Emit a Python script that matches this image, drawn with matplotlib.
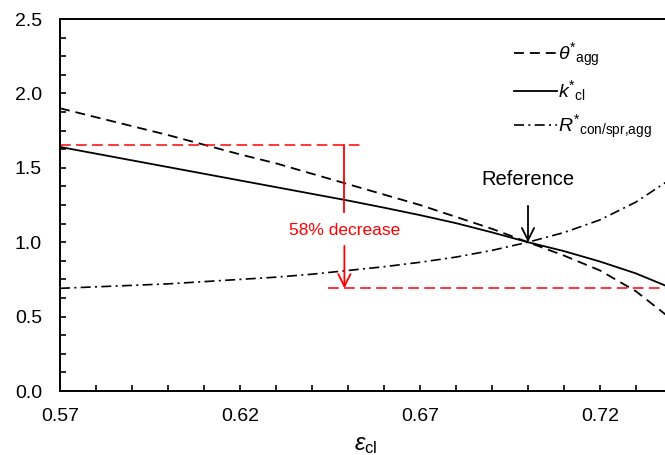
"""
Normalised aggregate properties against cluster porosity,
with the 58% decrease annotation and the reference point.
"""
import numpy as np
import matplotlib
matplotlib.use('Agg')
import matplotlib.pyplot as plt
from matplotlib.ticker import FixedLocator, MultipleLocator, FormatStrFormatter

plt.rcParams['font.family'] = ['Liberation Sans', 'DejaVu Sans']
plt.rcParams['mathtext.fontset'] = 'custom'
plt.rcParams['mathtext.rm'] = 'Liberation Sans'
plt.rcParams['mathtext.it'] = 'Liberation Sans:italic'

# values
eps_cl = [0.57, 0.58, 0.59, 0.60, 0.61, 0.62, 0.63, 0.64, 0.65,
          0.66, 0.67, 0.68, 0.69, 0.70, 0.71, 0.72, 0.73, 0.74]
theta_agg = [1.90, 1.84, 1.78, 1.72, 1.655, 1.59, 1.53, 1.46, 1.39,
             1.32, 1.25, 1.17, 1.09, 1.00, 0.91, 0.81, 0.67, 0.48]
k_cl = [1.64, 1.595, 1.55, 1.505, 1.46, 1.415, 1.37, 1.325, 1.28,
        1.232, 1.182, 1.128, 1.066, 1.00, 0.94, 0.87, 0.79, 0.69]
r_con = [0.69, 0.70, 0.71, 0.72, 0.735, 0.75, 0.765, 0.785, 0.81,
         0.835, 0.865, 0.90, 0.945, 1.00, 1.065, 1.15, 1.27, 1.43]

labels = [r'$\theta^{*}{}_{\rm agg}$', r'$k^{*}{}_{\rm cl}$',
          r'$R^{*}{}_{\rm con/spr{,}agg}$']

x_ticks = [0.57, 0.62, 0.67, 0.72]

ref_x, ref_y = 0.70, 1.00
top_level, low_level = 1.65, 0.69
decrease_x = 0.649
decrease_text = '58% decrease'

RED = '#ff0000'

fig = plt.figure(figsize=(6.65, 4.55), dpi=100)
ax = fig.add_axes([60 / 665, 64 / 455, 612 / 665, 372 / 455])

ax.plot(eps_cl, theta_agg, color='black', lw=1.3,
        linestyle=(0, (5.5, 3.3)), label=labels[0])
ax.plot(eps_cl, k_cl, color='black', lw=1.3, label=labels[1])
ax.plot(eps_cl, r_con, color='black', lw=1.2,
        linestyle=(0, (6, 2.6, 1.2, 2.6)), label=labels[2])

# red level lines and the decrease arrow
ax.plot([0.57, 0.6533], [top_level, top_level], color=RED, lw=1.1,
        linestyle=(0, (7, 3.5)))
ax.plot([0.6444, 0.74], [low_level, low_level], color=RED, lw=1.1,
        linestyle=(0, (7, 3.5)))
ax.plot([decrease_x, decrease_x], [top_level, 1.20], color=RED, lw=1.3)
ax.annotate('', xy=(decrease_x, low_level), xytext=(decrease_x, 0.975),
            arrowprops=dict(arrowstyle='->', color=RED, lw=1.3,
                            mutation_scale=22, shrinkA=0, shrinkB=0))
ax.text(decrease_x, 1.08, decrease_text, color=RED, fontsize=12.5,
        ha='center', va='center')

# reference point
ax.annotate('Reference', xy=(ref_x, ref_y), xytext=(ref_x, 1.42),
            fontsize=14.5, ha='center', va='center',
            arrowprops=dict(arrowstyle='->', color='black', lw=1.3,
                            mutation_scale=22, shrinkA=10, shrinkB=0))

ax.set_xlim(0.57, 0.74)
ax.set_ylim(0, 2.5)
ax.xaxis.set_major_locator(FixedLocator(x_ticks))
ax.xaxis.set_minor_locator(FixedLocator(np.arange(0.57, 0.745, 0.01)))
ax.yaxis.set_major_locator(MultipleLocator(0.5))
ax.yaxis.set_minor_locator(MultipleLocator(0.125))
ax.xaxis.set_major_formatter(FormatStrFormatter('%.2f'))
ax.yaxis.set_major_formatter(FormatStrFormatter('%.1f'))
ax.tick_params(which='both', direction='in', length=4, width=1.2,
               labelsize=14)
ax.tick_params(axis='x', which='both', pad=12)
ax.tick_params(axis='y', which='both', pad=13)
for side in ['left', 'bottom', 'top', 'right']:
    ax.spines[side].set_linewidth(1.4)

ax.set_xlabel(r'$\varepsilon_{\rm cl}$', fontsize=17, labelpad=7)

ax.legend(loc='upper left', bbox_to_anchor=(0.714, 0.989), frameon=False,
          fontsize=14, handlelength=2.2, handletextpad=0.05,
          labelspacing=0.5)

fig.savefig('out.png', dpi=100)
